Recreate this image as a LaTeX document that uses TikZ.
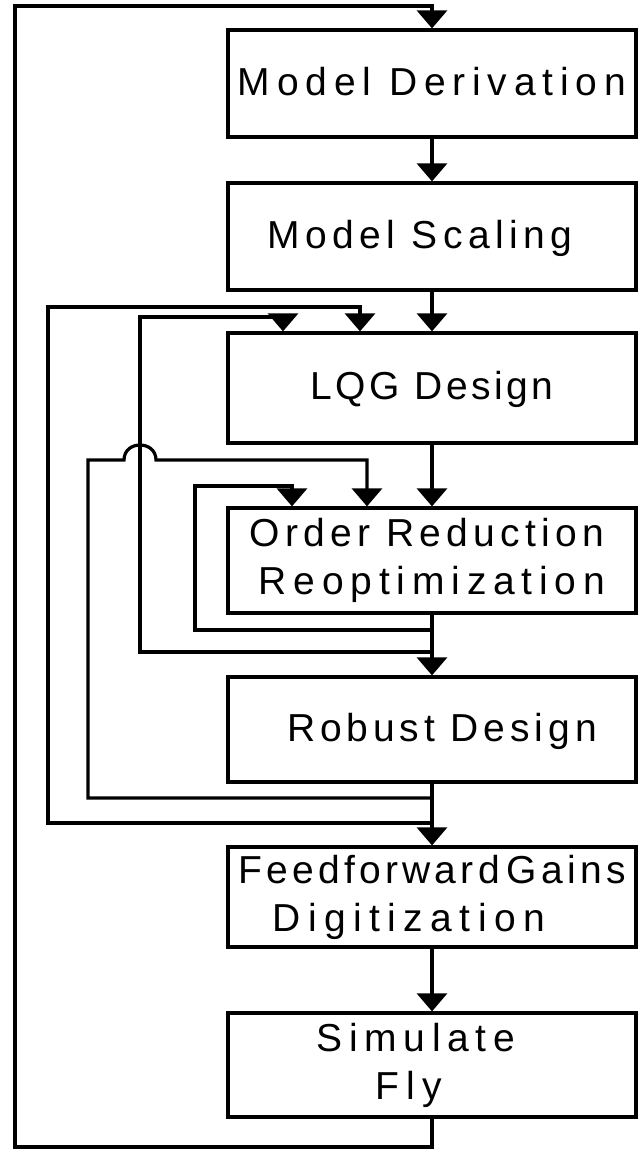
\documentclass[tikz,border=0pt]{standalone}
\usepackage{fontspec}
\setmainfont{Liberation Sans}
\newfontfamily\stagefont{Liberation Sans}
\usetikzlibrary{arrows.meta}

% tracked text for the stage labels
\newcommand{\tracked}[2]{{\addfontfeature{LetterSpace=#1}#2}}

\begin{document}
\begin{tikzpicture}[x=1pt,y=-1pt,
  wire/.style={line width=3.2pt},
  arr/.style={wire, -{Triangle[width=30pt,length=18pt]}},
  stage/.style={draw, line width=3.2pt, minimum width=408pt, inner sep=0pt,
    font=\stagefont\fontsize{39}{48}\selectfont, align=center},
  one/.style={text height=28pt, text depth=#1},
]
\useasboundingbox (0,0) rectangle (638,1152);

% design stages
\node[stage, one=4pt, minimum height=107pt] (md)  at (432,83.5)  {\tracked{17.5}{Model Derivation}};
\node[stage, one=4pt, minimum height=107pt] (ms)  at (432,236.5) {\tracked{14}{Model Scaling}\hspace*{24pt}};
\node[stage, one=6pt, minimum height=110pt] (lqg) at (432,388)   {\tracked{9}{LQG Design}};
\node[stage, minimum height=105pt] (orr) at (432,560.5)
  {\tracked{13.6}{Order Reduction}\hspace*{10pt}\\\tracked{17.4}{Reoptimization}};
\node[stage, one=4pt, minimum height=105pt] (rd)  at (432,729.5)  {\hspace*{20pt}\tracked{12.6}{Robust Design}};
\node[stage, minimum height=100pt] (ff)  at (432,897)
  {\tracked{11}{Feedforward\hspace{-8pt} Gains}\\\tracked{19}{Digitization}\hspace*{46pt}};
\node[stage, minimum height=104pt] (sim) at (432,1065)
  {\tracked{17}{Simulate}\hspace*{32pt}\\\tracked{18}{Fly}\hspace*{46pt}};

% main chain
\draw[arr] (md)  -- (ms);
\draw[arr] (ms)  -- (lqg);
\draw[arr] (lqg) -- (orr);
\draw[arr] (orr) -- (rd);
\draw[arr] (rd)  -- (ff);
\draw[arr] (ff)  -- (sim);

% outer loop back to the model
\coordinate (botR) at (432,1147);
\coordinate (botL) at (15,1147);
\coordinate (topL) at (15,6);
\coordinate (topR) at (432,6);
\draw[arr] (sim.south) -- (botR) -- (botL) -- (topL) -- (topR) -- (md.north);

% taps on the main line
\coordinate (t1) at (432,630);
\coordinate (t2) at (432,652);
\coordinate (t3) at (432,798);
\coordinate (t4) at (432,823);

% inlet columns
\coordinate (xl1) at (283,0);
\coordinate (xl2) at (360,0);
\coordinate (xo1) at (292,0);
\coordinate (xo2) at (367,0);

% corners of the iteration loops
\coordinate (c1) at (195,486);
\coordinate (c2) at (140,317);
\coordinate (c3) at (88,460);
\coordinate (c4) at (48,307);
\coordinate (hopL) at (124,460);
\coordinate (hopR) at (156,460);

\draw[arr] (t1) -| (c1) -| (orr.north -| xo1);
\draw[arr] (t2) -| (c2) -| (lqg.north -| xl1);
\draw[arr] (t3) -| (c3) -- (hopL) .. controls (124,440) and (156,440) .. (hopR) -| (orr.north -| xo2);
\draw[arr] (t4) -| (c4) -| (lqg.north -| xl2);
\end{tikzpicture}
\end{document}
